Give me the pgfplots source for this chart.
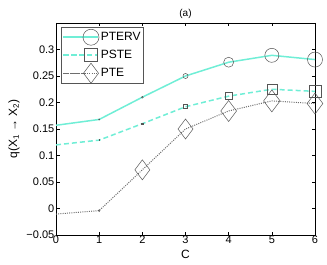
\documentclass[border=0pt]{standalone}
\usepackage{pgfplots}
\pgfplotsset{compat=1.18}
\usepackage{fontspec}
\setmainfont{Liberation Sans}
\definecolor{aq}{RGB}{112,238,214}
\definecolor{mk}{RGB}{85,85,85}
\begin{document}
\begin{tikzpicture}
\begin{axis}[
  name=ax,
  scale only axis, width=259pt, height=212pt,
  xmin=0, xmax=6, ymin=-0.05, ymax=0.35,
  xtick={0,1,2,3,4,5,6},
  ytick={-0.05,0,0.05,0.1,0.15,0.2,0.25,0.3},
  yticklabels={−0.05,0,0.05,0.1,0.15,0.2,0.25,0.3},
  tick align=inside, tick style={black, line width=0.5pt}, major tick length=3.5pt,
  axis line style={line width=0.7pt},
  /pgf/number format/assume math mode=true,
  tick label style={font=\fontsize{11}{12}\selectfont},
  xticklabel style={inner sep=1pt},
  yticklabel style={inner sep=1.5pt},
  label style={font=\fontsize{12}{13}\selectfont},
  xlabel={C}, ylabel={q(X\textsubscript{1} → X\textsubscript{2})},
  xlabel style={at={(axis description cs:0.5,0)}, anchor=center, yshift=-19.5pt},
  ylabel style={at={(axis description cs:-0.162,0.5)}, anchor=center},
  title={(a)}, title style={at={(axis description cs:0.5,1)}, anchor=center, yshift=3pt, font=\fontsize{10}{12}\selectfont},
  legend style={at={(0,1)}, anchor=north west, xshift=5pt, yshift=-4pt, draw=mk, line width=0.5pt,
    font=\fontsize{12}{13}\selectfont, inner sep=1pt, row sep=0pt,
    nodes={inner xsep=2pt, inner ysep=4pt, text height=8.5pt, text depth=1.5pt},
    /tikz/every even column/.append style={column sep=0pt},
    cells={anchor=west}},
  legend image code/.code={
    \path (0pt,0pt) -- (35pt,0pt);
    \draw[#1, mark=none] (1pt,0pt) -- (22pt,0pt);
    \draw[#1, draw=none, overlay] plot coordinates {(28pt,0pt)};
  },
  scatter/use mapped color={draw=mk, fill=none},
]
\addlegendimage{color=aq, line width=1.5pt, mark=o, mark options={draw=mk, solid, line width=0.5pt, mark size=8pt}}
\addlegendentry{PTERV}
\addlegendimage{color=aq, line width=1.5pt, dash pattern=on 5pt off 3pt, mark=square, mark options={draw=mk, solid, line width=0.5pt, mark size=6.5pt}}
\addlegendentry{PSTE}
\addlegendimage{color=mk!85, line width=1pt, dash pattern=on 1pt off 1.2pt, mark=diamond, mark options={draw=mk, solid, line width=0.5pt, mark size=10pt}}
\addlegendentry{PTE}

\addplot[color=aq, line width=1.5pt, mark=none, forget plot] coordinates {(0,0.157)(1,0.168)(2,0.21)(3,0.25)(4,0.276)(5,0.289)(6,0.281)};
\addplot[color=aq, line width=1.5pt, dash pattern=on 5pt off 3pt, mark=none, forget plot] coordinates {(0,0.120)(1,0.129)(2,0.16)(3,0.192)(4,0.212)(5,0.225)(6,0.221)};
\addplot[color=mk!85, line width=1pt, dash pattern=on 1pt off 1.2pt, mark=none, forget plot] coordinates {(0,-0.0105)(1,-0.004)(2,0.073)(3,0.15)(4,0.184)(5,0.203)(6,0.198)};

\addplot[scatter, only marks, mark=o, line width=0.5pt, forget plot,
  visualization depends on={\thisrow{s} \as \ms},
  scatter/@pre marker code/.append style={/tikz/mark size=\ms pt}] table {
x y s
1 0.168 0.6
2 0.21 0.9
3 0.25 2.5
4 0.276 5
5 0.289 7
6 0.281 7.5
};
\addplot[scatter, only marks, mark=square, line width=0.5pt, forget plot,
  visualization depends on={\thisrow{s} \as \ms},
  scatter/@pre marker code/.append style={/tikz/mark size=\ms pt}] table {
x y s
1 0.129 0.4
2 0.16 0.7
3 0.192 2
4 0.212 3.5
5 0.225 5
6 0.221 6
};
\addplot[scatter, only marks, mark=diamond, line width=0.5pt, forget plot,
  visualization depends on={\thisrow{s} \as \ms},
  scatter/@pre marker code/.append style={/tikz/mark size=\ms pt}] table {
x y s
1 -0.004 1
2 0.073 10
3 0.15 10
4 0.184 10.5
5 0.203 11
6 0.198 10.5
};
\end{axis}
\pgfresetboundingbox
\useasboundingbox ([shift={(-56pt,-29pt)}]ax.south west) rectangle ([shift={(12pt,23pt)}]ax.north east);
\end{tikzpicture}
\end{document}
